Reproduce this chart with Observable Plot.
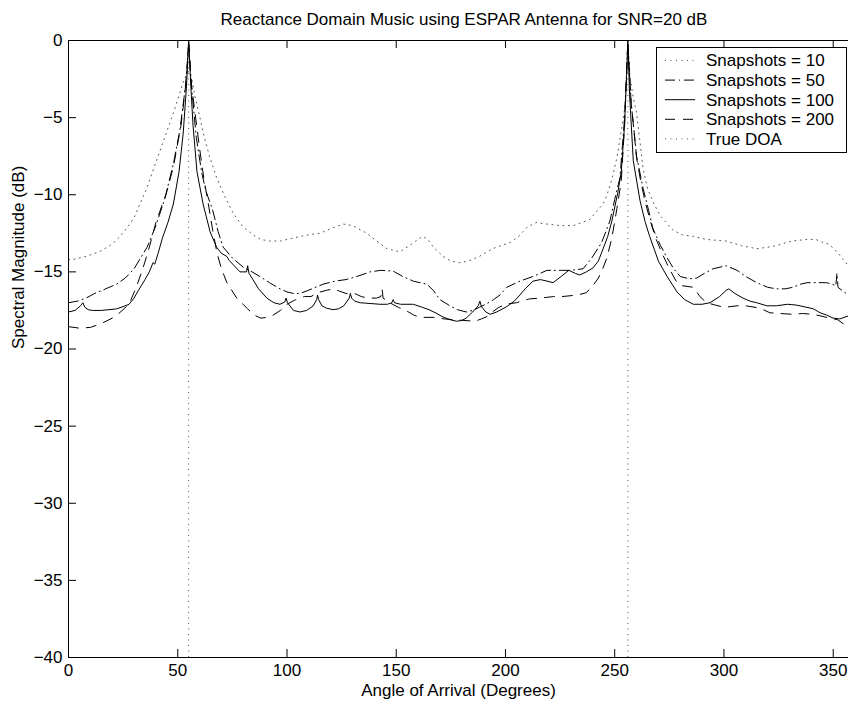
<!DOCTYPE html>
<html>
<head>
<meta charset="utf-8">
<script src="https://cdn.jsdelivr.net/npm/d3@7"></script>
<script src="https://cdn.jsdelivr.net/npm/@observablehq/plot@0.6"></script>
<style>
  body { margin: 0; background: #fff; }
  #wrap { position: relative; width: 848px; height: 707px; overflow: hidden; background: #fff;
          font-family: "Liberation Sans", Arial, Helvetica, sans-serif; }
  #title { position: relative; margin-left: 80px; width: 768px; height: 17px; padding-top: 11px;
           font-size: 17px; line-height: 17px; text-align: center; color: #000; white-space: nowrap; }
  #legend { position: absolute; left: 0; top: 0; }
  svg { display: block; }
</style>
</head>
<body>
<div id="wrap">
  <div id="title"></div>
  <div id="chart"></div>
  <svg id="legend" width="848" height="707"></svg>
</div>
<script>
// ---- text ----
const titleText = "Reactance Domain Music using ESPAR Antenna for SNR=20 dB";
const xLabel = "Angle of Arrival (Degrees)";
const yLabel = "Spectral Magnitude (dB)";
const legendLabels = ["Snapshots = 10", "Snapshots = 50", "Snapshots = 100", "Snapshots = 200", "True DOA"];

// ---- ticks ----
const xTicks = [0, 50, 100, 150, 200, 250, 300, 350];
const yTicks = [0, -5, -10, -15, -20, -25, -30, -35, -40];

// ---- true directions of arrival (degrees) ----
const trueDOA = [55, 256];

// ---- series: [angle (deg), spectral magnitude (dB)] ----
const snap10 = [[0,-14.2],[2,-14.2],[8,-14.0],[14,-13.7],[19,-13.3],[23,-12.8],[27,-12.1],[30,-11.5],[33,-10.5],[35.5,-9.7],[38,-8.7],[42,-7.1],[45,-5.9],[48,-4.7],[50.5,-3.6],[52.3,-2.8],[54,-2.2],[55,-2.0],[56.3,-2.4],[58,-3.7],[60,-4.9],[61.7,-6.0],[64.5,-7.5],[67.8,-8.9],[71.5,-10.1],[75.4,-11.2],[80,-12.1],[84.5,-12.6],[88,-12.9],[92,-13.0],[97,-13.0],[103,-12.8],[109.6,-12.6],[115,-12.5],[120,-12.2],[125.7,-11.9],[130,-12.0],[136.5,-12.5],[141,-13.0],[145.8,-13.5],[151.7,-13.7],[156,-13.3],[159,-13.0],[162,-12.7],[164.5,-12.9],[167,-13.4],[171.5,-14.0],[175,-14.3],[179,-14.4],[183,-14.3],[188,-14.0],[194,-13.5],[202,-13.1],[206,-12.7],[210,-12.1],[214,-11.8],[219,-11.9],[225,-12.0],[231,-12.0],[235,-11.8],[238.6,-11.6],[241,-11.2],[244.7,-10.6],[246.5,-10.0],[248.7,-9.0],[251,-7.6],[252.5,-6.3],[254.7,-4.3],[255.5,-2.4],[256,0],[257,-2.4],[258.5,-3.7],[260,-4.7],[261.5,-6.5],[263,-8.3],[265,-9.6],[268,-10.6],[271,-11.4],[276.7,-12.3],[281,-12.6],[286,-12.7],[292,-12.9],[301,-13.0],[308,-13.3],[315,-13.5],[320,-13.4],[324,-13.3],[331,-13.0],[338,-12.9],[342,-12.9],[345.5,-13.1],[348,-13.2],[351,-13.6],[354,-14.1],[357,-14.6]];

const snap50 = [[0,-17.0],[4,-16.9],[8,-16.7],[12,-16.4],[17,-16.1],[22,-15.8],[26,-15.4],[30,-14.8],[33,-14.1],[36,-13.4],[40,-12.0],[44,-10.3],[48,-8.0],[51,-5.8],[53.5,-3.0],[55,-0.3],[56.5,-3.3],[58.5,-6.3],[61,-8.6],[63,-9.8],[66,-11.0],[68.5,-12.4],[70.8,-13.4],[75,-14.1],[80,-14.7],[84,-15.0],[87.6,-15.3],[92,-15.7],[96.8,-16.1],[100,-16.3],[103,-16.4],[106,-16.4],[109.7,-16.2],[116.5,-15.8],[122,-15.6],[127,-15.5],[132,-15.3],[138,-15.0],[143,-14.9],[148.6,-14.95],[153,-15.3],[157.8,-15.6],[164,-15.8],[167,-16.2],[170,-16.8],[174.6,-17.2],[178,-17.45],[182,-17.6],[185,-17.5],[188,-17.3],[191,-17.1],[194.5,-16.8],[197.5,-16.5],[200.6,-16.0],[206.6,-15.6],[212.6,-15.3],[219,-14.9],[225,-14.9],[230,-14.9],[235.5,-14.8],[239.5,-14.1],[244,-13.1],[247.8,-11.7],[250,-10.3],[252.4,-8.9],[254.5,-5.0],[256,-0.3],[257.5,-4.0],[260,-7.5],[263,-9.6],[265.5,-11.0],[267.5,-12.2],[271,-13.3],[274,-14.1],[277,-14.8],[280,-15.3],[284,-15.45],[287.6,-15.4],[291,-15.1],[295,-14.8],[301,-14.6],[306,-14.9],[310,-15.3],[315,-15.7],[320,-16.0],[324,-16.1],[328,-16.1],[331.6,-16.0],[335,-15.8],[338,-15.7],[343,-15.7],[347,-15.7],[349.5,-15.8],[351.2,-15.9],[351.7,-15.1],[352.2,-16.0],[354,-16.2],[357,-16.5]];

const snap100 = [[0,-17.6],[3,-17.5],[5.5,-17.2],[6.6,-17.0],[7.5,-17.3],[9,-17.45],[11,-17.5],[15,-17.5],[22,-17.4],[25,-17.25],[27.7,-17.1],[30,-16.7],[32,-16.2],[35,-15.5],[37,-15.0],[38.7,-14.4],[39.5,-14.5],[41,-13.8],[43,-12.8],[45.5,-11.8],[48,-10.6],[50.6,-8.5],[52.5,-6.0],[54,-3.0],[55,0],[56,-3.0],[57,-5.5],[58.8,-8.5],[61.6,-10.6],[64.8,-12.4],[67.8,-13.4],[70,-13.8],[72.5,-14.0],[73.5,-14.25],[78.5,-15.0],[81.5,-15.0],[82,-14.6],[82.6,-15.1],[84,-15.4],[87,-16.1],[90.8,-16.7],[94,-17.0],[96.8,-17.1],[99,-16.95],[99.6,-16.7],[100.2,-17.0],[103,-17.5],[106,-17.6],[109,-17.5],[112,-17.2],[113.6,-16.8],[114,-16.5],[114.5,-16.8],[116,-17.2],[118,-17.35],[121,-17.45],[123.5,-17.4],[126,-17.2],[128.5,-16.7],[129,-16.4],[129.6,-16.7],[131,-16.9],[133.5,-17.0],[138,-17.05],[142.6,-17.1],[146,-17.1],[148,-17.0],[148.6,-16.8],[149.2,-17.0],[152,-17.1],[157.8,-17.1],[162,-17.3],[165,-17.45],[168.6,-17.7],[171,-17.9],[174.6,-18.1],[177.6,-18.2],[180,-18.15],[182,-18.0],[185,-17.6],[187.5,-17.2],[188.3,-16.9],[189,-17.25],[191,-17.6],[193,-17.75],[196,-17.6],[200.6,-17.25],[204,-16.9],[206.6,-16.5],[209,-16.1],[212.6,-15.6],[216,-15.5],[219,-15.6],[221.8,-15.7],[225,-15.35],[229,-14.9],[232,-15.1],[234,-15.2],[237,-15.0],[240,-14.75],[242.5,-14.3],[244.7,-13.5],[246.8,-12.7],[248.7,-11.7],[251.5,-9.8],[253,-8.5],[254.5,-5.5],[255.5,-2.0],[256,0],[256.8,-3.5],[258.5,-7.8],[261.6,-10.4],[264,-11.8],[266,-12.7],[270,-14.3],[274,-15.3],[278.5,-16.3],[282,-16.8],[286,-17.1],[290,-17.1],[293.6,-17.0],[298,-16.6],[301,-16.2],[302.2,-16.1],[305,-16.4],[308.7,-16.7],[312,-16.9],[315,-17.0],[319.6,-17.2],[324,-17.2],[329,-17.1],[333,-17.15],[338,-17.3],[341,-17.4],[344,-17.65],[347,-17.8],[350,-18.0],[353,-18.05],[357,-17.85]];

const snap200 = [[0,-18.55],[5,-18.65],[10,-18.6],[15,-18.35],[20,-18.0],[23,-17.7],[27.7,-17.1],[31,-16.0],[34,-14.8],[37,-13.4],[40,-11.8],[42.5,-10.8],[44.6,-10.0],[48,-8.2],[51.5,-5.5],[54,-2.5],[55,0],[56.2,-2.8],[58,-4.8],[60,-7.0],[62,-9.0],[64,-10.6],[66,-12.3],[68,-13.8],[70,-14.8],[72.5,-15.7],[77,-16.7],[82,-17.4],[85,-17.8],[88,-18.0],[91,-17.95],[93.7,-17.8],[97,-17.5],[100,-17.1],[104,-16.8],[108,-16.6],[111,-16.6],[114,-16.35],[118,-16.2],[121,-16.1],[124,-16.25],[127,-16.4],[131,-16.4],[134,-16.6],[137,-16.7],[141,-16.7],[143,-16.6],[143.5,-16.1],[144,-16.7],[147,-17.0],[151,-17.3],[155,-17.55],[158,-17.8],[161,-17.95],[167,-17.95],[172,-18.05],[176,-18.1],[181,-18.15],[186,-18.2],[189,-18.05],[191.5,-17.9],[194,-17.6],[197,-17.3],[200,-17.1],[205,-17.0],[211,-16.75],[216,-16.7],[222,-16.6],[226,-16.6],[233,-16.5],[237,-16.35],[240,-15.9],[242.5,-15.4],[244.5,-14.8],[246.4,-14.1],[248.7,-12.8],[251,-10.9],[253,-9.1],[254.5,-5.5],[256,0],[257.5,-4.0],[260,-7.6],[262,-9.2],[264,-10.5],[266.5,-11.8],[269,-12.9],[272,-13.9],[275,-14.8],[278.5,-15.7],[281,-15.9],[286,-16.0],[289,-16.6],[292,-17.0],[296,-17.15],[300,-17.3],[306,-17.2],[310,-17.2],[316.5,-17.35],[321,-17.65],[325.6,-17.7],[331.6,-17.75],[336,-17.7],[341,-17.75],[347,-17.95],[352,-18.1],[354.5,-18.35],[357,-18.5]];

// ---- styles ----
const FONT = "Liberation Sans, Arial, Helvetica, sans-serif";
const dotted = "1,4.5";
const dashDot = "10,4,1,4";
const dashed = "10,8";
const seriesStyles = [
  {dash: dotted, width: 1, color: "#555"},
  {dash: dashDot, width: 1, color: "#000"},
  {dash: null, width: 1, color: "#000"},
  {dash: dashed, width: 1, color: "#000"},
  {dash: dotted, width: 1, color: "#555"}
];
const seriesData = [snap10, snap50, snap100, snap200];

const fmt = d => d < 0 ? "\u2212" + Math.abs(d) : String(d);

document.getElementById("title").textContent = titleText;

const plotH = 679, mTop = 12, mBottom = 50, mLeft = 68, mRight = 0;
const innerH = plotH - mTop - mBottom;
const innerW = 848 - mLeft - mRight;
const tickLen = 8;

const lineMarks = seriesData.map((s, i) => Plot.line(s, {
  x: d => d[0], y: d => d[1],
  stroke: seriesStyles[i].color, strokeWidth: seriesStyles[i].width,
  strokeDasharray: seriesStyles[i].dash, curve: "linear"
}));

const chart = Plot.plot({
  width: 848, height: plotH,
  marginTop: mTop, marginBottom: mBottom, marginLeft: mLeft, marginRight: mRight,
  style: {fontFamily: FONT, fontSize: "17px", color: "#000", background: "#fff", overflow: "visible"},
  x: {domain: [0, 357], range: [mLeft, 848]},
  y: {domain: [-40, 0]},
  marks: [
    Plot.ruleX(trueDOA, {x: d => d, y1: -40, y2: 0, stroke: seriesStyles[4].color, strokeWidth: 1, strokeDasharray: dotted}),
    ...lineMarks,
    Plot.ruleY([-40, 0], {stroke: "#000", strokeWidth: 1}),
    Plot.ruleX([0], {stroke: "#000", strokeWidth: 1}),
    Plot.tickX(xTicks, {x: d => d, insetTop: innerH - tickLen, stroke: "#000"}),
    Plot.tickX(xTicks, {x: d => d, insetBottom: innerH - tickLen, stroke: "#000"}),
    Plot.tickY(yTicks, {y: d => d, insetRight: innerW - tickLen, stroke: "#000"}),
    Plot.axisX(xTicks, {tickSize: 0, tickPadding: 6, tickFormat: fmt, label: null, fontSize: 17}),
    Plot.axisY(yTicks, {tickSize: 0, tickPadding: 6, tickFormat: fmt, label: null, fontSize: 17}),
    Plot.text([xLabel], {text: d => d, frameAnchor: "bottom", dy: 33, fontSize: 17, lineAnchor: "middle", fill: "#000"}),
    Plot.text([yLabel], {text: d => d, frameAnchor: "left", dx: -50, rotate: -90, fontSize: 17, lineAnchor: "middle", fill: "#000"})
  ]
});
document.getElementById("chart").appendChild(chart);

// ---- legend ----
const leg = d3.select("#legend");
const box = {x: 656.5, y: 47.5, w: 190, h: 105};
leg.append("rect").attr("x", box.x).attr("y", box.y).attr("width", box.w).attr("height", box.h)
  .attr("fill", "#fff").attr("stroke", "#000").attr("stroke-width", 1);
const rowY0 = 60.5, rowStep = 19.6;
legendLabels.forEach((lab, i) => {
  const y = rowY0 + i * rowStep;
  const st = seriesStyles[i];
  leg.append("line").attr("x1", 665).attr("x2", 695).attr("y1", y).attr("y2", y)
    .attr("stroke", st.color).attr("stroke-width", st.width)
    .attr("stroke-dasharray", st.dash);
  leg.append("text").attr("x", 706).attr("y", y).attr("dy", "0.35em")
    .attr("font-family", FONT).attr("font-size", 17).attr("fill", "#000").text(lab);
});
</script>
</body>
</html>
